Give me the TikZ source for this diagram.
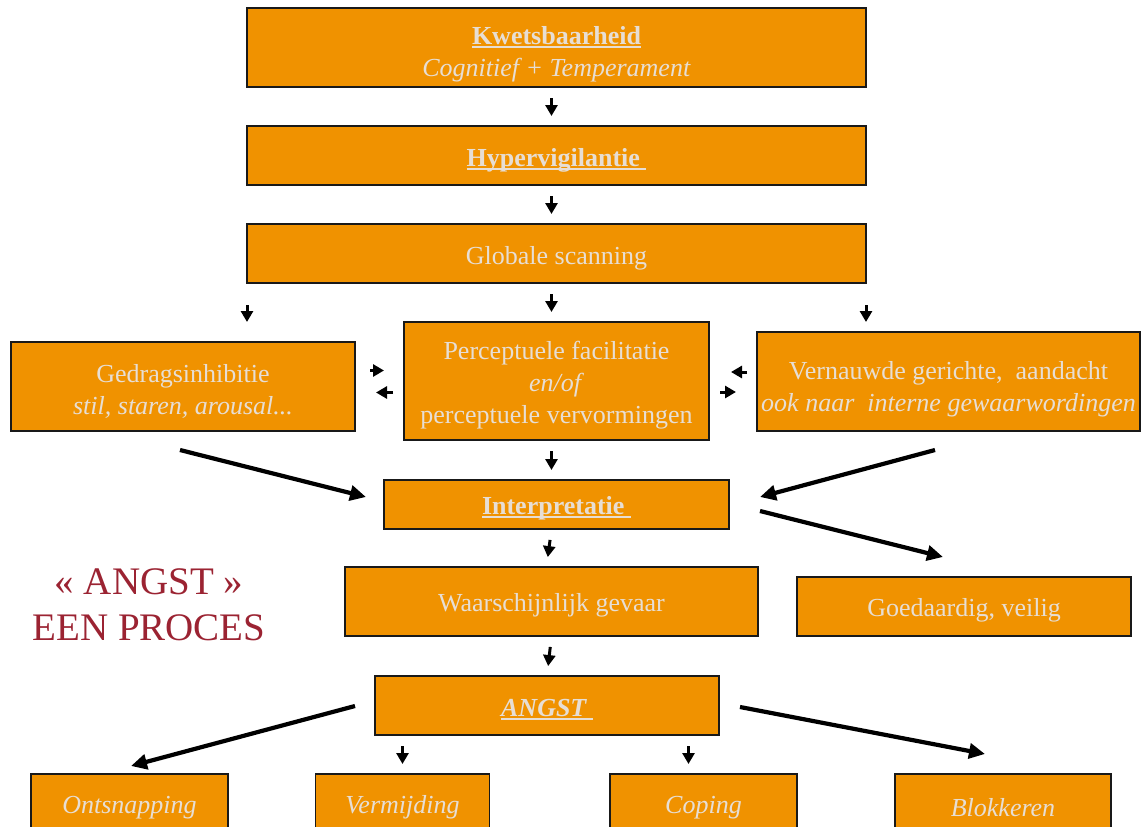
\documentclass[tikz,border=0pt]{standalone}
\usepackage{fontspec}
\setmainfont{Liberation Serif}
\usetikzlibrary{arrows.meta}
\definecolor{boxorange}{RGB}{240,146,0}
\definecolor{boxtext}{RGB}{231,222,212}
\definecolor{titlered}{RGB}{155,35,50}
% underline at a fixed depth below the baseline
\newcommand\uln[1]{\mbox{\setbox0\hbox{#1}\rlap{\rule[-3pt]{\wd0}{1.3pt}}\box0}}
\begin{document}
\begin{tikzpicture}[x=1pt,y=-1pt,
  box/.style={draw=black!90, line width=1.5pt, fill=boxorange,
    inner sep=0pt, outer sep=0pt},
  txt/.style={text=boxtext, inner sep=0pt, align=center,
    font=\fontsize{26}{32}\selectfont},
  sarr/.style={line width=3pt, -{Triangle[width=12pt,length=11pt]}},
  short/.style={sarr, shorten <=11pt, shorten >=10pt},
  larr/.style={line width=4.2pt, -{Triangle[width=15pt,length=16pt]}}]
\useasboundingbox (0,0) rectangle (1141,827);
\clip (0,0) rectangle (1141,827);

% main chain boxes
\node[box, minimum width=619pt, minimum height=79pt] (k) at (556.5,47.5) {};
\node[box, minimum width=619pt, minimum height=59pt] (h) at (556.5,155.5) {};
\node[box, minimum width=619pt, minimum height=59pt] (g) at (556.5,253.5) {};
\node[box, minimum width=344pt, minimum height=89pt] (gi) at (183,386.5) {};
\node[box, minimum width=305pt, minimum height=118pt] (pf) at (556.5,381) {};
\node[box, minimum width=383pt, minimum height=99pt] (vg) at (948.5,381.5) {};
\node[box, minimum width=345pt, minimum height=49pt] (ip) at (556.5,504.5) {};
\node[box, minimum width=413pt, minimum height=69pt] (wg) at (551.5,601.5) {};
\node[box, minimum width=334pt, minimum height=59pt] (gv) at (964,606.5) {};
\node[box, minimum width=344pt, minimum height=59pt] (an) at (547,705.5) {};

% reaction boxes
\node[box, minimum width=197pt, minimum height=59pt] (on) at (129.5,803.5) {};
\node[box, minimum width=174pt, minimum height=59pt] (vm) at (402.5,803.5) {};
\node[box, minimum width=187pt, minimum height=59pt] (co) at (703.5,803.5) {};
\node[box, minimum width=216pt, minimum height=59pt] (bl) at (1003,803.5) {};

% box texts
\node[txt] (k-t) at ([yshift=-7pt]k.center)
  {\textbf{\uln{Kwetsbaarheid}}\\\textit{Cognitief + Temperament}};
\node[txt] (h-t) at ([yshift=-5pt]h.center) {\textbf{\uln{Hypervigilantie\ }}};
\node[txt] (g-t) at ([yshift=-5pt]g.center) {Globale scanning};
\node[txt] (gi-t) at ([yshift=-5pt]gi.center)
  {Gedragsinhibitie\\\textit{stil, staren, arousal...}};
\node[txt] (pf-t) at ([yshift=-4pt]pf.center)
  {Perceptuele facilitatie\\\textit{en/of}\\perceptuele vervormingen};
\node[txt] (vg-t) at ([yshift=-8pt]vg.center)
  {Vernauwde gerichte,\ \ aandacht\\\textit{ook naar\ \ interne gewaarwordingen}};
\node[txt] (ip-t) at ([yshift=-4pt]ip.center) {\textbf{\uln{Interpretatie\ }}};
\node[txt] (wg-t) at ([yshift=-4pt]wg.center) {Waarschijnlijk gevaar};
\node[txt] (gv-t) at ([yshift=-4pt]gv.center) {Goedaardig, veilig};
\node[txt] (an-t) at ([yshift=-4pt]an.center) {\textbf{\textit{\uln{ANGST\ }}}};
\node[txt] (on-t) at ([yshift=-4pt]on.center) {\textit{Ontsnapping}};
\node[txt] (vm-t) at ([yshift=-4pt]vm.center) {\textit{Vermijding}};
\node[txt] (co-t) at ([yshift=-4pt]co.center) {\textit{Coping}};
\node[txt] (bl-t) at ([yshift=-4pt]bl.center) {\textit{Blokkeren}};

% title
\node[text=titlered, align=center, font=\fontsize{39}{46}\selectfont] (title)
  at (149,605) {« ANGST »\\EEN PROCES};

% short vertical arrows
\draw[short] ([xshift=-5pt]k.south) -- ([xshift=-5pt]h.north);
\draw[short] ([xshift=-5pt]h.south) -- ([xshift=-5pt]g.north);
\draw[short] ([xshift=-5pt]g.south) -- ([xshift=-5pt]pf.north);
\draw[short] ([xshift=-5pt]pf.south) -- ([xshift=-5pt]ip.north);
\draw[short] ([xshift=-5pt]ip.south) -- ([xshift=-5pt]wg.north);
\draw[short] (wg.south) -- ([xshift=-4.5pt]wg.south |- an.north);
\draw[short] (vm.north |- an.south) -- (vm.north);
\draw[short] ([xshift=-15pt]co.north |- an.south) -- ([xshift=-15pt]co.north);
\draw[sarr] ([yshift=-22pt]g.south west) -- ([yshift=-39pt]g.south west);
\draw[sarr] ([yshift=-22pt]g.south east) -- ([yshift=-39pt]g.south east);

% short horizontal arrows
\draw[sarr] ([shift={(15,-16)}]gi.east) -- ([shift={(29,-16)}]gi.east);
\draw[sarr] ([shift={(38,6)}]gi.east) -- ([shift={(21,6)}]gi.east);
\draw[sarr] ([shift={(38,-9)}]pf.east) -- ([shift={(22,-9)}]pf.east);
\draw[sarr] ([shift={(11,11)}]pf.east) -- ([shift={(27,11)}]pf.east);

% long diagonal arrows
\coordinate (d1s) at (180,450);  \coordinate (d1e) at (366,497);
\coordinate (d2s) at (935,450);  \coordinate (d2e) at (760,497);
\coordinate (d3s) at (760,511);  \coordinate (d3e) at (943,557);
\coordinate (d4s) at (355,706);  \coordinate (d4e) at (131,766);
\coordinate (d5s) at (740,707);  \coordinate (d5e) at (985,754);
\draw[larr] (d1s) -- (d1e);
\draw[larr] (d2s) -- (d2e);
\draw[larr] (d3s) -- (d3e);
\draw[larr] (d4s) -- (d4e);
\draw[larr] (d5s) -- (d5e);
\end{tikzpicture}
\end{document}
